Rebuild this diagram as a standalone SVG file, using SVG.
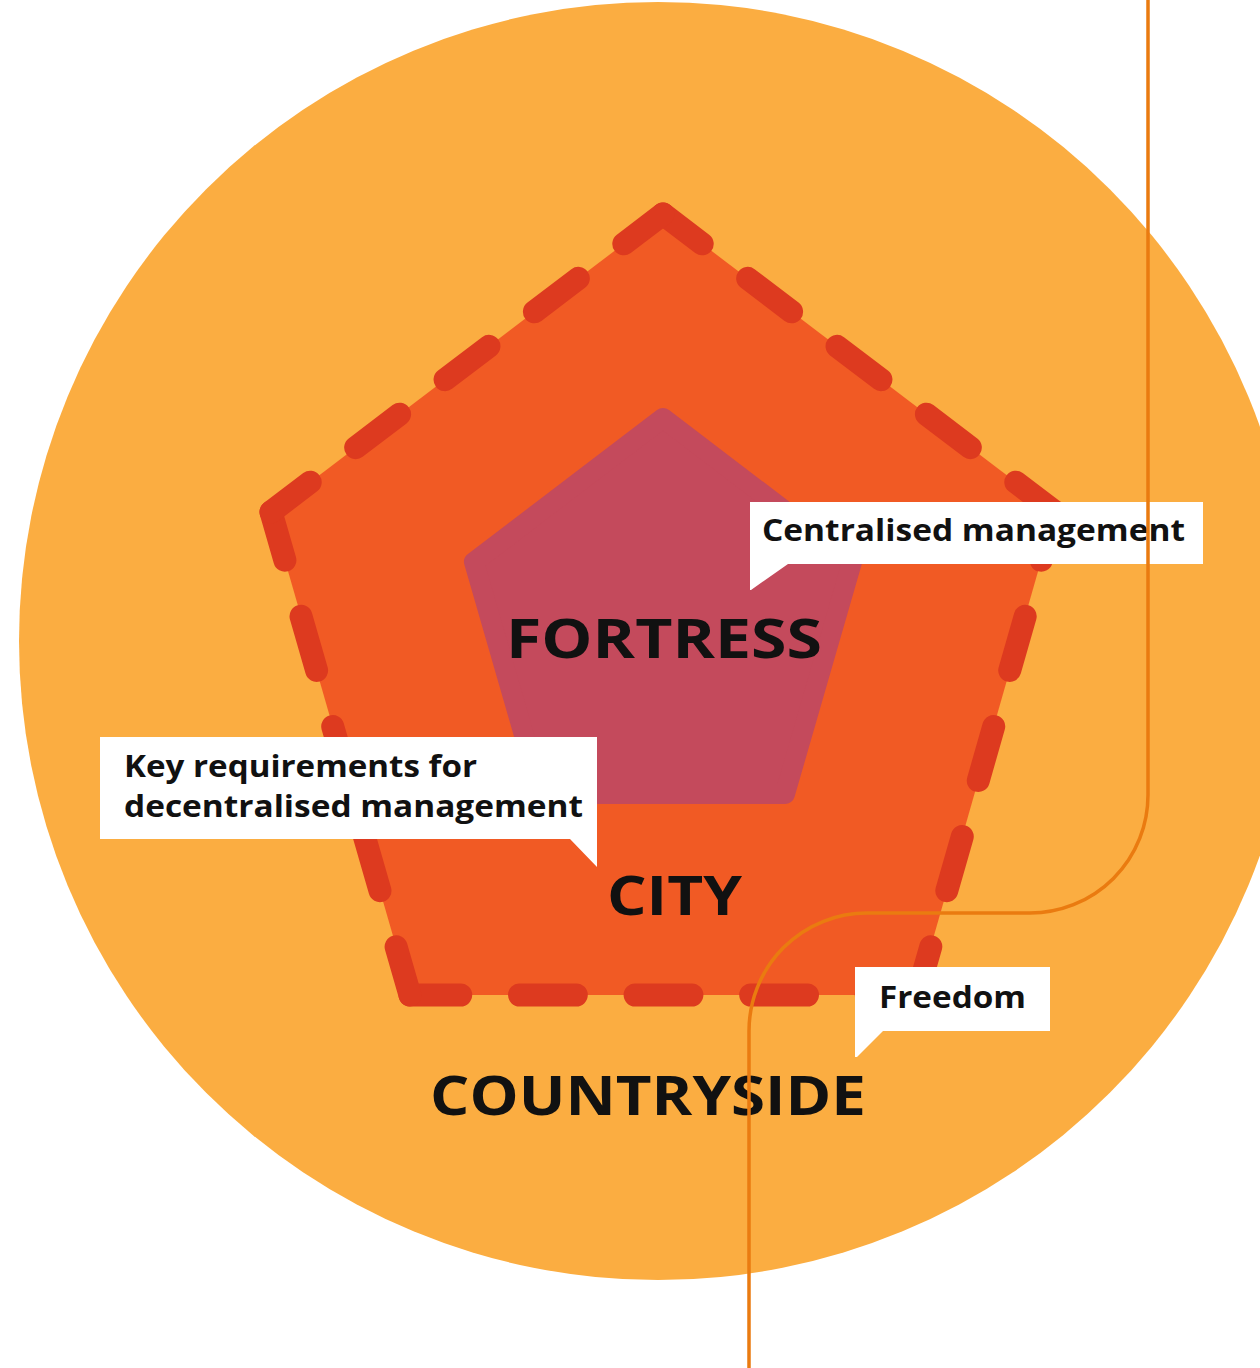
<svg xmlns="http://www.w3.org/2000/svg" width="1260" height="1368" viewBox="0 0 1260 1368">
  <style>
    .dash { fill: none; stroke: #DD3A1F; stroke-width: 23; stroke-linecap: round; stroke-dasharray: 50 58 56 58 56 58 56 58 50; }
    .big { font-family: "Open Sans", "Liberation Sans", sans-serif; font-weight: 700; fill: #111111; }
    .call { font-family: "Open Sans", "Liberation Sans", sans-serif; font-weight: 700; font-size: 30px; fill: #111111; }
    .box { fill: #FFFFFF; }
    .conn { fill: none; stroke: #EA7B10; stroke-width: 3.5; }
  </style>
  <rect width="1260" height="1368" fill="#FFFFFF"/>
  <g id="countryside">
    <circle cx="658" cy="641" r="639" fill="#FBAD41"/>
  </g>
  <g id="city">
    <polygon points="663,214 1055,512 917,995 410,995 271,512" fill="#F15A24"/>
    <path class="dash" pathLength="500" d="M663,214 L1055,512"/>
    <path class="dash" pathLength="500" d="M1055,512 L917,995"/>
    <path class="dash" pathLength="500" d="M917,995 L410,995"/>
    <path class="dash" pathLength="500" d="M410,995 L271,512"/>
    <path class="dash" pathLength="500" d="M271,512 L663,214"/>
  </g>
  <g id="fortress">
    <polygon points="663,418 852,562 785,794 541,794 474,562" fill="#C44A5C" stroke="#C44A5C" stroke-width="20" stroke-linejoin="round"/>
  </g>
  <g id="labels">
    <text class="big" x="506" y="658" font-size="53" textLength="316" lengthAdjust="spacingAndGlyphs">FORTRESS</text>
    <text class="big" x="607" y="915" font-size="53" textLength="135" lengthAdjust="spacingAndGlyphs">CITY</text>
    <text class="big" x="430" y="1115" font-size="53" textLength="436" lengthAdjust="spacingAndGlyphs">COUNTRYSIDE</text>
  </g>
  <g id="callout-centralised">
    <polygon class="box" points="750,502 1203,502 1203,564 788,564 751,590 750,590"/>
    <text class="call" x="762" y="541" textLength="423" lengthAdjust="spacingAndGlyphs">Centralised management</text>
  </g>
  <g id="callout-decentralised">
    <polygon class="box" points="100,737 597,737 597,867 570,839 100,839"/>
    <text class="call" x="124" y="777" textLength="353" lengthAdjust="spacingAndGlyphs">Key requirements for</text>
    <text class="call" x="124" y="817" textLength="459" lengthAdjust="spacingAndGlyphs">decentralised management</text>
  </g>
  <g id="callout-freedom">
    <polygon class="box" points="855,967 1050,967 1050,1031 883,1031 857,1057 855,1057"/>
    <text class="call" x="879" y="1008" textLength="147" lengthAdjust="spacingAndGlyphs">Freedom</text>
  </g>
  <g id="connectors">
    <path class="conn" d="M1148,0 V795 A118,118 0 0 1 1030,913 H867 A118,118 0 0 0 749,1031 V1368"/>
  </g>
</svg>
